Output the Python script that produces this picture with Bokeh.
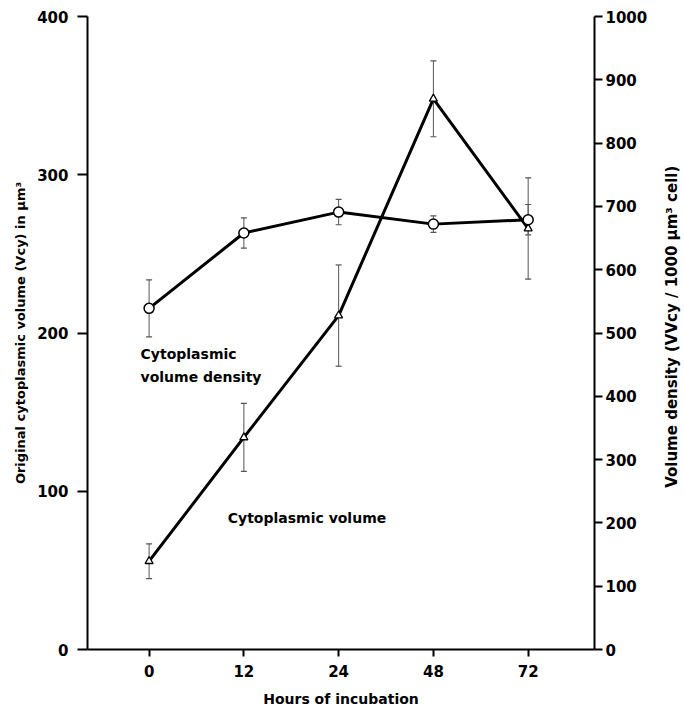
import math
from bokeh.plotting import figure
from bokeh.models import Range1d, LinearAxis, FixedTicker, Label
from bokeh.layouts import row
from bokeh.embed import file_html
from bokeh.resources import INLINE

# ---- data ----
hours = ["0", "12", "24", "48", "72"]
positions = [0, 1, 2, 3, 4]

density = [539, 658, 691, 672, 679]          # right axis, circles
density_err = [45, 24, 20, 13, 24]

volume = [55.8, 134, 211, 348, 266]          # left axis, triangles
volume_err = [11, 21.5, 32, 24, 32]

left_ticks = [0, 100, 200, 300, 400]
right_ticks = [0, 100, 200, 300, 400, 500, 600, 700, 800, 900, 1000]

right_title = "Volume density (VVcy / 1000 μm³ cell)"

FONT = "DejaVu Sans"

p = figure(width=650, height=710, output_backend="svg", toolbar_location=None,
           x_range=Range1d(-0.65, 4.70), y_range=Range1d(0, 400),
           min_border_left=87, min_border_right=52, min_border_top=16,
           min_border_bottom=61)
p.extra_y_ranges = {"right": Range1d(0, 1000)}
p.outline_line_color = None
p.xgrid.visible = False
p.ygrid.visible = False
p.background_fill_color = "white"
p.border_fill_color = "white"


def style_axis(ax, label, title_size="13px"):
    ax.axis_label = label
    ax.axis_label_text_font = FONT
    ax.axis_label_text_font_style = "bold"
    ax.axis_label_text_font_size = title_size
    ax.axis_label_text_color = "black"
    ax.major_label_text_font = FONT
    ax.major_label_text_font_style = "bold"
    ax.major_label_text_font_size = "15px"
    ax.major_label_text_color = "black"
    ax.axis_line_width = 2
    ax.axis_line_color = "black"
    ax.major_tick_line_width = 2
    ax.major_tick_line_color = "black"
    ax.major_tick_in = 0
    ax.major_tick_out = 8
    ax.minor_tick_line_color = None


# x axis
xa = p.xaxis[0]
style_axis(xa, "Hours of incubation", "14px")
xa.ticker = FixedTicker(ticks=positions)
xa.major_label_overrides = {pos: h for pos, h in zip(positions, hours)}
xa.major_tick_out = 7
xa.major_label_standoff = 8
xa.axis_label_standoff = 11

# left axis
ya = p.yaxis[0]
style_axis(ya, "Original cytoplasmic volume (Vcy) in μm³", "13px")
ya.ticker = FixedTicker(ticks=left_ticks)
ya.major_tick_out = 10
ya.major_label_standoff = 9
ya.axis_label_standoff = 6

# right axis (its title is drawn in a narrow strip to read bottom-to-top)
ra = LinearAxis(y_range_name="right")
style_axis(ra, None, "15px")
ra.ticker = FixedTicker(ticks=right_ticks)
ra.major_label_standoff = 3
p.add_layout(ra, "right")

# ---- error bars ----
d_lo = [v - e for v, e in zip(density, density_err)]
d_hi = [v + e for v, e in zip(density, density_err)]
v_lo = [v - e for v, e in zip(volume, volume_err)]
v_hi = [v + e for v, e in zip(volume, volume_err)]

p.segment(x0=positions, y0=v_lo, x1=positions, y1=v_hi, line_color="#555555", line_width=1)
p.scatter(positions, v_lo, marker="dash", size=6, line_color="#555555", line_width=1.2)
p.scatter(positions, v_hi, marker="dash", size=6, line_color="#555555", line_width=1.2)

p.segment(x0=positions, y0=d_lo, x1=positions, y1=d_hi, line_color="#555555", line_width=1,
          y_range_name="right")
p.scatter(positions, d_lo, marker="dash", size=6, line_color="#555555", line_width=1.2,
          y_range_name="right")
p.scatter(positions, d_hi, marker="dash", size=6, line_color="#555555", line_width=1.2,
          y_range_name="right")

# ---- lines ----
p.line(positions, volume, line_color="black", line_width=3)
p.line(positions, density, line_color="black", line_width=3, y_range_name="right")

# ---- markers ----
p.scatter(positions, volume, marker="triangle", size=8, fill_color="white",
          line_color="black", line_width=1.3)
p.scatter(positions, density, marker="circle", size=10, fill_color="white",
          line_color="black", line_width=1.5, y_range_name="right")

# ---- text labels ----
for txt, x, y in [("Cytoplasmic", -0.09, 187), ("volume density", -0.09, 172.5),
                  ("Cytoplasmic volume", 0.83, 83)]:
    p.add_layout(Label(x=x, y=y, text=txt, text_font=FONT, text_font_style="bold",
                       text_font_size="14px", text_color="black",
                       text_baseline="middle", text_align="left"))

# ---- strip holding the right-hand axis title ----
p2 = figure(width=34, height=710, output_backend="svg", toolbar_location=None,
            x_range=Range1d(0, 34), y_range=Range1d(0, 710),
            min_border=0, min_border_left=0, min_border_right=0,
            min_border_top=0, min_border_bottom=0)
p2.axis.visible = False
p2.grid.visible = False
p2.outline_line_color = None
p2.background_fill_color = "white"
p2.border_fill_color = "white"
p2.add_layout(Label(x=21, y=362, text=right_title, angle=math.pi / 2,
                    text_font=FONT, text_font_style="bold", text_font_size="15px",
                    text_color="black", text_align="center", text_baseline="middle"))

open("out.html", "w").write(file_html(row(p, p2), INLINE))
